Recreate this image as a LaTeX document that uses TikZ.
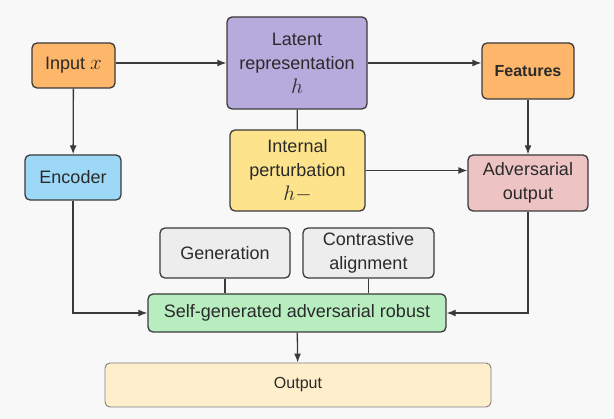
\RequirePackage{fix-cm}
\documentclass[tikz,border=0pt]{standalone}
\usepackage{amsmath}
\usepackage{fontspec}
\setmainfont{Liberation Sans}
\usetikzlibrary{arrows.meta}
\DeclareMathSizes{18}{21}{15}{11}

\definecolor{bggray}{HTML}{F8F8F8}
\definecolor{linegray}{HTML}{3A3A3A}
\definecolor{textgray}{HTML}{2A2A2A}
\definecolor{inorange}{HTML}{FDB66A}
\definecolor{latpurple}{HTML}{B7AADD}
\definecolor{encblue}{HTML}{9DD8F7}
\definecolor{intyellow}{HTML}{FDE48C}
\definecolor{advpink}{HTML}{EDC3C3}
\definecolor{gengray}{HTML}{EDEDED}
\definecolor{sggreen}{HTML}{B8EDC0}
\definecolor{outcream}{HTML}{FEEECB}

\begin{document}
\begin{tikzpicture}
  [x=1pt,y=-1pt,>={Latex[length=9pt,width=7pt]},
   line/.style={draw=linegray,line width=1.3pt},
   main box/.style={draw=linegray,line width=1.3pt,rounded corners=5pt,align=center,inner sep=0pt,text=textgray,font=\fontsize{18}{24}\selectfont}]
  \fill[bggray] (0,0) rectangle (614,419);

  \node[main box, fill=inorange, minimum width=83pt, minimum height=45pt] (in) at (73.5,65.5) {Input $x$};
\node[main box, fill=latpurple, minimum width=140pt, minimum height=92pt] (lat) at (297,63) {Latent\\representation\\$h$};
\node[main box, fill=inorange, minimum width=92pt, minimum height=56pt, font=\fontsize{16}{20}\selectfont\bfseries] (feat) at (528,71) {Features};
\node[main box, fill=encblue, minimum width=96pt, minimum height=45pt] (enc) at (73,177.5) {Encoder};
\node[main box, fill=intyellow, minimum width=135pt, minimum height=81pt] (int) at (297.5,170.5) {Internal\\perturbation\\$h-$};
\node[main box, fill=advpink, minimum width=120pt, minimum height=56pt] (adv) at (528,183) {Adversarial\\output};

\node[main box, fill=gengray, minimum width=130pt, minimum height=50pt] (gen) at (225,253) {Generation};
\node[main box, fill=gengray, minimum width=131pt, minimum height=50pt] (con) at (368.5,253) {Contrastive\\alignment};
\node[main box, fill=sggreen, minimum width=298pt, minimum height=38pt] (sg) at (297,313) {Self-generated adversarial robust};
\node[main box, fill=outcream, draw=gray, line width=0.9pt, minimum width=386pt, minimum height=44pt, font=\fontsize{16}{20}\selectfont] (out) at (298,385) {Output};

  \draw[line,->] (in.east |- lat.west) -- (lat.west);
  \draw[line,->] (lat.east) -- (lat.east -| feat.west);
  \draw[line,->] (in) -- (enc);
  \draw[line] (lat) -- (int);
  \draw[line,->] (feat) -- (adv);
  \draw[line,->] (int.east) -- (int.east -| adv.west);

  \draw[line,->] (enc.south) |- (sg.west);
  \draw[line,->] (adv.south) |- (sg.east);
  \draw[line] (gen.south) -- (gen.south |- sg.north);
  \draw[line] (con.south) -- (con.south |- sg.north);
  \draw[line,->] (sg) -- (out);

\end{tikzpicture}
\end{document}
